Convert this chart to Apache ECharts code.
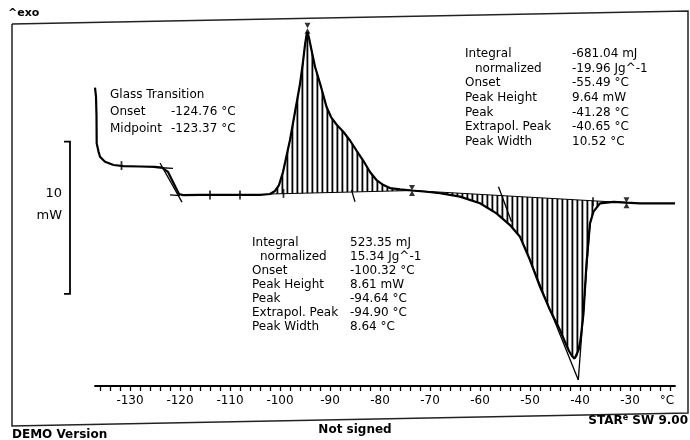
<!DOCTYPE html>
<html><head><meta charset="utf-8">
<script src="https://cdn.jsdelivr.net/npm/echarts@6/dist/echarts.min.js"></script>
<style>html,body{margin:0;padding:0;background:#fff}#c{width:690px;height:440px}</style>
</head><body><div id="c"></div>
<script>
// ---- data (temperature in °C, heat flow in mW, exo up) ----
const temperature = [-137,-136.8,-136.7,-136.66,-136.3,-136,-135,-133.3,-131.3,-128,-125,-123.6,-123.2,-122.4,-121.6,-120.8,-120.2,-119.4,-116,-112,-108,-104,-102,-101,-100.2,-99.4,-98.7,-98,-97,-96,-95.4,-95,-94.7,-94.5,-94.2,-93.7,-93,-92,-90.7,-89.8,-88.7,-87.3,-86,-84.7,-83.3,-82,-80.7,-79.3,-78,-76,-73.6,-70.7,-68,-64,-60,-56.7,-54,-52,-50,-48,-46,-44,-43,-42.2,-41.6,-41.1,-40.7,-40.3,-39.9,-39.3,-38.7,-38,-37.3,-36,-33.3,-30.7,-28,-21];
const heatFlow = [7.05,6.46,5.2,3.39,2.85,2.51,2.18,1.97,1.90,1.87,1.84,1.80,1.74,1.51,0.98,0.45,0.06,-0.01,0,0,0,0.01,0.06,0.26,0.65,1.51,2.56,3.61,5.45,7.29,8.74,9.86,10.51,10.71,10.32,9.53,8.43,7.34,5.80,5.12,4.63,4.14,3.58,2.92,2.23,1.51,0.98,0.65,0.45,0.36,0.29,0.21,0.11,-0.11,-0.55,-1.21,-1.98,-2.75,-4.28,-6.04,-7.57,-8.88,-9.67,-10.26,-10.59,-10.76,-10.66,-10.20,-9.54,-7.78,-4.50,-1.87,-1.10,-0.55,-0.45,-0.51,-0.55,-0.55];
const exoLimits = [-102, -73.6];
const endoLimits = [-73.6, -30.7];
const xTickLabels = [-130,-120,-110,-100,-90,-80,-70,-60,-50,-40,-30];
const constructionLines = [
  [[-124,2.10],[-119.6,-0.47]],
  [[-125.4,1.82],[-121.4,1.75]],
  [[-122,0],[-120,-0.04]],
  [[-85.7,0.32],[-85,-0.45]],
  [[-56.3,0.54],[-53.7,-1.76]],
  [[-50,-4.28],[-40.34,-12.17]],
  [[-38,-1.87],[-40.34,-12.17]]
];
const tickMarks = [[-131.7,1.93],[-114,0],[-108,0],[-99.3,0.1],[-37.4,-0.45]];
const limitMarks = [[-94.5,10.95],[-73.6,0.29],[-30.7,-0.51]];
const glassLabels = ['Glass Transition','Onset','Midpoint'];
const glassValues = ['','-124.76 °C','-123.37 °C'];
const statLabels = ['Integral','normalized','Onset','Peak Height','Peak','Extrapol. Peak','Peak Width'];
const endoStats = ['-681.04 mJ','-19.96 Jg^-1','-55.49 °C','9.64 mW','-41.28 °C','-40.65 °C','10.52 °C'];
const exoStats = ['523.35 mJ','15.34 Jg^-1','-100.32 °C','8.61 mW','-94.64 °C','-94.90 °C','8.64 °C'];

// ---- build ----
const FONT = 'DejaVu Sans';
const INK = '#000';
const xTicks = [];
for (let v = -136; v <= -22; v += 2) xTicks.push(v);

const hatchCanvas = document.createElement('canvas');
hatchCanvas.width = 5; hatchCanvas.height = 8;
(function(){ const g = hatchCanvas.getContext('2d'); g.fillStyle = '#fff'; g.fillRect(0,0,5,8); g.fillStyle = '#000'; g.fillRect(1.5,0,1.8,8); })();
const hatchFill = {image: hatchCanvas, repeat: 'repeat'};

const curve = temperature.map((t,i) => [t, heatFlow[i]]);
function hatchSeries(lim) {
  const pts = curve.filter(p => p[0] >= lim[0] && p[0] <= lim[1]);
  return {
    type: 'custom', coordinateSystem: 'cartesian2d', silent: true, z: 1,
    data: [pts[0]],
    renderItem: (params, api) => ({
      type: 'polygon',
      shape: {points: pts.map(p => api.coord(p))},
      style: {fill: hatchFill, stroke: INK, lineWidth: 1}
    })
  };
}

const series = [hatchSeries(exoLimits), hatchSeries(endoLimits),
  {type:'line', data: curve, showSymbol:false, z:4, lineStyle:{color:INK, width:2.2}, silent:true}
];
constructionLines.forEach(seg => series.push({type:'line', data: seg, showSymbol:false, z:3, lineStyle:{color:INK, width:1.3}, silent:true}));
series.push({type:'scatter', data: tickMarks, symbol:'rect', symbolSize:[1.8,9], itemStyle:{color:INK}, z:5, silent:true});
series.push({type:'scatter', data: limitMarks, symbol:'path://M0,0L10,0L0,20L10,20Z', symbolSize:[6,11], itemStyle:{color:INK}, z:5, silent:true});

function txt(x, y, s, o) {
  o = o || {};
  return {type:'text', x:x, y:y, silent:true, style:{text:s, fill:INK, fontFamily:FONT, fontSize:o.size||12, fontWeight:o.weight||'normal', align:o.align||'left', verticalAlign:'middle'}};
}
const graphics = [];
graphics.push({type:'polyline', silent:true, shape:{points:[[12,24],[688,11],[688,413],[12,426],[12,24]]}, style:{stroke:'#222', lineWidth:1.5, fill:null}});
graphics.push(txt(8, 13, '^exo', {size:11, weight:'bold'}));
glassLabels.forEach((s,i) => graphics.push(txt(110, 95 + i*16.7, s)));
glassValues.forEach((s,i) => { if (s) graphics.push(txt(171, 95 + i*16.7, s)); });
statLabels.forEach((s,i) => {
  graphics.push(txt(i === 1 ? 475 : 465, 54 + i*14.6, s));
  graphics.push(txt(i === 1 ? 260 : 252, 243 + i*13.9, s));
});
endoStats.forEach((s,i) => graphics.push(txt(572, 54 + i*14.6, s)));
exoStats.forEach((s,i) => graphics.push(txt(350, 243 + i*13.9, s)));
graphics.push(txt(667, 401, '°C', {align:'center'}));
graphics.push(txt(12, 435, 'DEMO Version', {weight:'bold'}));
graphics.push(txt(355, 430, 'Not signed', {weight:'bold', align:'center'}));
graphics.push({type:'text', x:688, y:421, silent:true, style:{text:'{a|STAR}{s|e}{a| SW 9.00}', align:'right', verticalAlign:'middle', rich:{a:{fontFamily:FONT, fontSize:12, fontWeight:'bold', fill:INK}, s:{fontFamily:FONT, fontSize:8, fontWeight:'bold', fill:INK, verticalAlign:'top', padding:[0,0,6,0]}}}});

const chart = echarts.init(document.getElementById('c'), null, {renderer:'canvas'});
chart.setOption({
  animation: false,
  backgroundColor: '#fff',
  grid: {left:95, right:15, top:20, bottom:54, containLabel:false},
  xAxis: {type:'value', min:-137, max:-21,
    axisLine:{show:true, onZero:false, lineStyle:{color:INK, width:1.8}},
    axisTick:{show:true, customValues:xTicks, length:5, inside:false, lineStyle:{color:INK, width:1.3}},
    axisLabel:{show:true, customValues:xTickLabels, margin:9, color:INK, fontFamily:FONT, fontSize:12},
    splitLine:{show:false}},
  yAxis: {type:'value', min:-12.56, max:11.5, show:false},
  series: series,
  graphic: graphics
});

// 10 mW scale bar tied to the heat-flow axis
const barTop = chart.convertToPixel({gridIndex:0}, [-100, 3.5])[1];
const barBot = chart.convertToPixel({gridIndex:0}, [-100, -6.5])[1];
graphics.push({type:'polyline', silent:true, shape:{points:[[64,barTop],[70,barTop],[70,barBot],[64,barBot]]}, style:{stroke:INK, lineWidth:1.8, fill:null}});
graphics.push(txt(62, barTop + 52, '10', {size:13, align:'right'}));
graphics.push(txt(62, barTop + 74, 'mW', {size:13, align:'right'}));
chart.setOption({graphic: graphics});
</script>
</body></html>
